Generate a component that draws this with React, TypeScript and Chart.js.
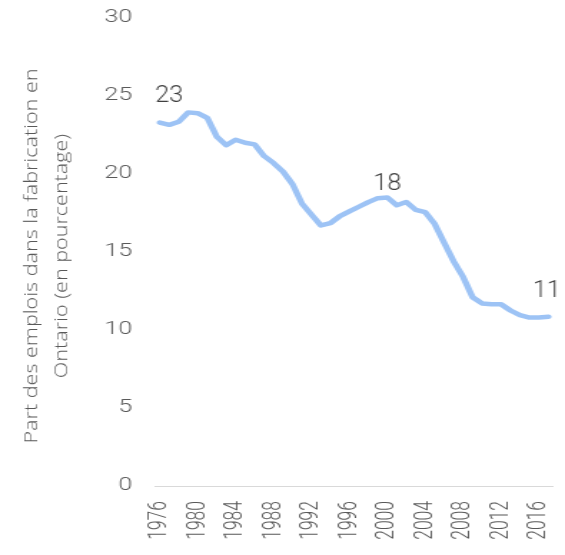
import { useEffect, useRef } from "react";
import { Chart, registerables } from "chart.js";

Chart.register(...registerables);

const years = [
  "1976", "1977", "1978", "1979", "1980", "1981", "1982", "1983", "1984", "1985",
  "1986", "1987", "1988", "1989", "1990", "1991", "1992", "1993", "1994", "1995",
  "1996", "1997", "1998", "1999", "2000", "2001", "2002", "2003", "2004", "2005",
  "2006", "2007", "2008", "2009", "2010", "2011", "2012", "2013", "2014", "2015",
  "2016", "2017",
];

const shares = [
  23.3, 23.15, 23.35, 23.95, 23.9, 23.6, 22.4, 21.85, 22.2, 22.0,
  21.9, 21.15, 20.7, 20.15, 19.35, 18.1, 17.4, 16.7, 16.85, 17.3,
  17.6, 17.9, 18.2, 18.45, 18.5, 18.0, 18.2, 17.7, 17.55, 16.8,
  15.6, 14.4, 13.4, 12.1, 11.7, 11.65, 11.65, 11.25, 10.95, 10.8,
  10.8, 10.85,
];

const labelYears = ["1976", "2000", "2017"];
const labelTexts = ["23", "18", "11"];

const yAxisTitle = ["Part des emplois dans la fabrication en", "Ontario (en pourcentage)"];

// The reference image is horizontally stretched: draw on a narrower canvas, then stretch via CSS.
const VIEW_W = 565;
const VIEW_H = 555;
const CANVAS_W = 395;

const FONT_FAMILY = "Roboto, 'Liberation Sans', sans-serif";
const TITLE_FAMILY = "'Open Sans', Roboto, sans-serif";
const FONT_SIZE = 17.5;
const LABEL_FONT_SIZE = 23.4;
const LABEL_SCALE_X = 0.755;
const LABEL_LIFT = [20.5, 7.4, 20];

const TITLE_FONT_SIZE = 20;
const TITLE_LENGTH = 375; // vertical extent of the first title line
const TITLE_CROSS_SCALE = 0.64;
const TITLE_CENTERS_X = [22.4, 43.4];
const TITLE_CENTER_Y = 256;

const pointLabels = {
  id: "pointLabels",
  afterDatasetsDraw(chart: any) {
    const meta = chart.getDatasetMeta(0);
    const ctx = chart.ctx;
    const area = chart.chartArea;
    ctx.save();
    ctx.font = `300 ${LABEL_FONT_SIZE}px ${FONT_FAMILY}`;
    ctx.fillStyle = "#404040";
    ctx.textAlign = "center";
    ctx.textBaseline = "alphabetic";
    labelYears.forEach((yr, i) => {
      const idx = years.indexOf(yr);
      const pt = meta.data[idx];
      if (!pt) return;
      const w = ctx.measureText(labelTexts[i]).width * LABEL_SCALE_X;
      let x = pt.x;
      if (x - w / 2 < area.left) x = area.left + w / 2;
      if (x + w / 2 > chart.width - 3) x = chart.width - 3 - w / 2;
      ctx.save();
      ctx.translate(x, pt.y - LABEL_LIFT[i]);
      ctx.scale(LABEL_SCALE_X, 1);
      ctx.fillText(labelTexts[i], 0, 0);
      ctx.restore();
    });
    ctx.restore();
  },
};

const axisTitle = {
  id: "axisTitle",
  afterDraw(chart: any) {
    const ctx = chart.ctx;
    ctx.save();
    ctx.font = `300 ${TITLE_FONT_SIZE}px ${TITLE_FAMILY}`;
    ctx.fillStyle = "#595959";
    ctx.textAlign = "center";
    ctx.textBaseline = "middle";
    const sx = TITLE_LENGTH / ctx.measureText(yAxisTitle[0]).width;
    yAxisTitle.forEach((line, i) => {
      ctx.save();
      ctx.translate(TITLE_CENTERS_X[i], TITLE_CENTER_Y);
      ctx.rotate(-Math.PI / 2);
      ctx.scale(sx, TITLE_CROSS_SCALE);
      ctx.fillText(line, 0, 0);
      ctx.restore();
    });
    ctx.restore();
  },
};

export default function App() {
  const ref = useRef<HTMLCanvasElement | null>(null);

  useEffect(() => {
    if (!ref.current) return;
    const chart = new Chart(ref.current, {
      type: "line",
      data: {
        labels: years,
        datasets: [
          {
            data: shares,
            borderColor: "#9dc3f5",
            borderWidth: 4.5,
            borderCapStyle: "round",
            borderJoinStyle: "round",
            pointRadius: 0,
            tension: 0,
            fill: false,
          },
        ],
      },
      options: {
        animation: false,
        responsive: false,
        devicePixelRatio: 1,
        layout: { padding: { top: 18, right: 8.3, left: 0, bottom: 0 } },
        plugins: {
          legend: { display: false },
          tooltip: { enabled: false },
        },
        scales: {
          x: {
            offset: true,
            grid: { display: false, drawTicks: false },
            border: { display: true, color: "#d9d9d9", width: 1 },
            ticks: {
              autoSkip: false,
              minRotation: 90,
              maxRotation: 90,
              padding: 15,
              color: "#595959",
              font: { family: FONT_FAMILY, size: FONT_SIZE, weight: "300" as any },
              callback: (_v: any, i: number) => (Number(years[i]) % 4 === 0 ? years[i] : ""),
            },
            afterFit: (s: any) => {
              s.height = 69;
              s.paddingLeft = 0;
              s.paddingRight = 0;
            },
          },
          y: {
            min: 0,
            max: 30,
            grid: { display: false, drawTicks: false },
            border: { display: false },
            ticks: {
              stepSize: 5,
              padding: 16,
              color: "#595959",
              font: { family: FONT_FAMILY, size: FONT_SIZE, weight: "300" as any },
            },
            title: { display: false },
            afterFit: (s: any) => {
              s.width = 108.4;
              s.paddingTop = 0;
              s.paddingBottom = 0;
            },
          },
        },
      },
      plugins: [pointLabels, axisTitle],
    });
    return () => chart.destroy();
  }, []);

  return (
    <div style={{ position: "fixed", left: 0, top: 0, width: VIEW_W, height: VIEW_H, background: "#fff" }}>
      <canvas
        ref={ref}
        width={CANVAS_W}
        height={VIEW_H}
        style={{ display: "block", width: VIEW_W, height: VIEW_H }}
      />
    </div>
  );
}
